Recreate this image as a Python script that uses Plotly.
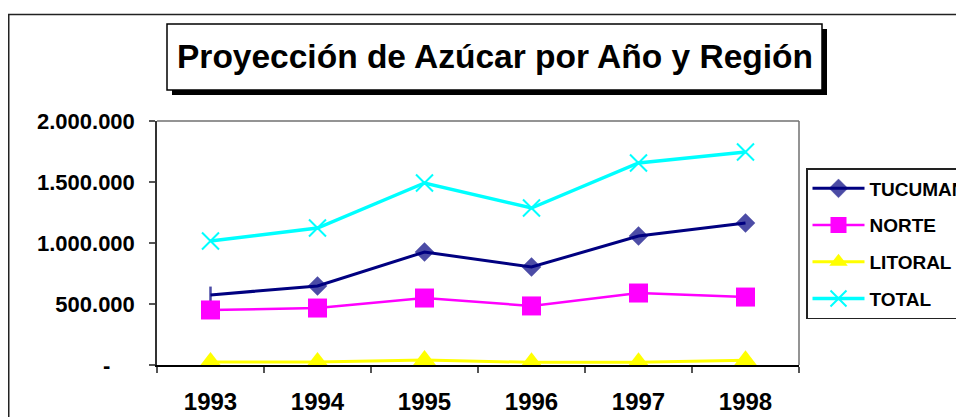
import plotly.graph_objects as go

# ---- data ----
years = ["1993", "1994", "1995", "1996", "1997", "1998"]
tucuman = [574000, 648000, 926000, 803000, 1057000, 1164000]
norte = [451000, 467000, 549000, 484000, 590000, 557000]
litoral = [25000, 25000, 40000, 22000, 22000, 38000]
total = [1016000, 1123000, 1492000, 1287000, 1656000, 1746000]
y_tickvals = [0, 500000, 1000000, 1500000, 2000000]
y_ticktext = ["-\u00a0\u00a0\u00a0\u00a0", "500.000", "1.000.000", "1.500.000", "2.000.000"]
title_text = "Proyección de Azúcar por Año y Región"

# page body has an 8px margin: the figure starts at (8, 8) in the window
OFF = 8
W, H = 964 - OFF, 417 - OFF
L, R, T, B = 157, 799, 121, 365   # plot area in window pixels
FONT = "Liberation Sans, Arial, sans-serif"


def px(x):
    return (x - L) / (R - L)


def py(y):
    return (B - y) / (B - T)


fig = go.Figure()

# TUCUMAN: data passed in reverse so the legend shows a diamond while the
# 1993 point is drawn as a small vertical tick, as in the reference
tuc_sym = ["diamond"] * (len(years) - 1) + ["line-ns"]
tuc_size = [15] * (len(years) - 1) + [12]
tuc_lw = [0] * (len(years) - 1) + [2.5]
fig.add_trace(go.Scatter(
    x=years[::-1], y=tucuman[::-1], name="TUCUMAN", mode="lines+markers",
    legendgroup="a",
    line=dict(color="#000080", width=3),
    marker=dict(symbol=tuc_sym, size=tuc_size, color="#000080",
                line=dict(color="#000080", width=tuc_lw)),
))
fig.add_trace(go.Scatter(
    x=years, y=norte, name="NORTE", mode="lines+markers", legendgroup="b",
    line=dict(color="#FF00FF", width=2.5),
    marker=dict(symbol="square", size=19, color="#FF00FF"),
))
fig.add_trace(go.Scatter(
    x=years, y=litoral, name="LITORAL", mode="lines+markers", legendgroup="c",
    line=dict(color="#FFFF00", width=3),
    marker=dict(symbol="triangle-up", size=20, color="#FFFF00"),
))
fig.add_trace(go.Scatter(
    x=years, y=total, name="TOTAL", mode="lines+markers", legendgroup="d",
    line=dict(color="#00FFFF", width=3.5),
    marker=dict(symbol="x-thin", size=17, color="#00FFFF",
                line=dict(color="#00FFFF", width=2)),
))

shapes = [
    # outer chart frame (left and top edges)
    dict(type="line", xref="paper", yref="paper", x0=px(8.75), x1=px(8.75), y0=py(14.5), y1=py(420),
         line=dict(color="#222222", width=1.5)),
    dict(type="line", xref="paper", yref="paper", x0=px(8), x1=px(970), y0=py(14.5), y1=py(14.5),
         line=dict(color="#222222", width=1.5)),
    # plot-area border top/right
    dict(type="line", xref="paper", yref="paper", x0=0, x1=1, y0=1, y1=1,
         line=dict(color="#707070", width=1.5)),
    dict(type="line", xref="paper", yref="paper", x0=1, x1=1, y0=0, y1=1,
         line=dict(color="#707070", width=1.5)),
    # title box shadow + box
    dict(type="rect", xref="paper", yref="paper", x0=px(172), x1=px(827), y0=py(95), y1=py(29),
         fillcolor="black", line=dict(width=0)),
    dict(type="rect", xref="paper", yref="paper", x0=px(167), x1=px(822), y0=py(90), y1=py(24),
         fillcolor="white", line=dict(color="black", width=1.5)),
]

fig.update_layout(
    width=W, height=H,
    margin=dict(l=L - OFF, r=W + OFF - R, t=T - OFF, b=H + OFF - B, autoexpand=False, pad=0),
    paper_bgcolor="white", plot_bgcolor="white",
    font=dict(family=FONT, color="black"),
    separators=",.",
    showlegend=True,
    legend=dict(
        x=px(806), y=py(168), xanchor="left", yanchor="top",
        bgcolor="white", bordercolor="#222222", borderwidth=1.5,
        font=dict(family=FONT, size=19, color="black", weight="bold"),
        itemwidth=52, tracegroupgap=9, traceorder="grouped",
    ),
    shapes=shapes,
    annotations=[dict(
        text="<b>" + title_text + "</b>", xref="paper", yref="paper",
        x=px(494.5), y=py(57), xanchor="center", yanchor="middle", showarrow=False,
        font=dict(family=FONT, size=33.5, color="black"),
    )],
    xaxis=dict(
        type="category", categoryorder="array", categoryarray=years,
        range=[-0.5, len(years) - 0.5],
        showgrid=False, zeroline=False,
        showline=True, linecolor="black", linewidth=1.5,
        ticks="outside", ticklen=6, tickwidth=1.5, tickcolor="#555555",
        tickson="boundaries", ticklabelstandoff=14,
        tickfont=dict(family=FONT, size=24, color="black", weight="bold"),
    ),
    yaxis=dict(
        range=[0, 2000000], showgrid=False, zeroline=False,
        showline=True, linecolor="#333333", linewidth=1.5,
        ticks="outside", ticklen=6, tickwidth=1.5, tickcolor="#555555",
        tickvals=y_tickvals, ticktext=y_ticktext, ticklabelstandoff=10,
        tickfont=dict(family=FONT, size=22, color="black", weight="bold"),
    ),
)

fig.write_html("out.html")
